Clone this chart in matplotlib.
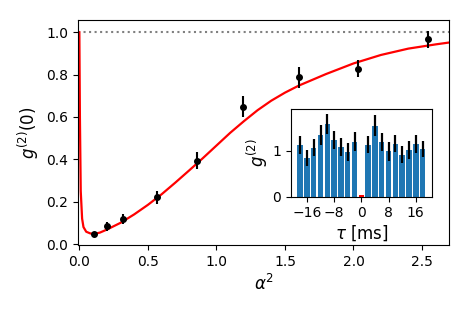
import numpy as np
import matplotlib
matplotlib.use("Agg")
import matplotlib.pyplot as plt

# данные измерений g2(0) от alpha^2
alpha2 = [0.107, 0.20, 0.317, 0.566, 0.859, 1.196, 1.60, 2.034, 2.54]
g2 = [0.047, 0.083, 0.118, 0.220, 0.393, 0.649, 0.788, 0.827, 0.968]
g2_err = [0.008, 0.022, 0.025, 0.030, 0.040, 0.050, 0.050, 0.040, 0.040]

# теоретическая кривая
fit_x = [0.0, 0.004, 0.01, 0.02, 0.03, 0.05, 0.08, 0.11, 0.15, 0.2, 0.3, 0.4,
         0.5, 0.6, 0.7, 0.8, 0.9, 1.0, 1.1, 1.2, 1.3, 1.4, 1.5, 1.6, 1.8,
         2.0, 2.2, 2.4, 2.6, 2.7]
fit_y = [1.0, 0.6, 0.25, 0.12, 0.08, 0.058, 0.05, 0.048, 0.054, 0.068, 0.10,
         0.14, 0.185, 0.235, 0.29, 0.347, 0.405, 0.465, 0.525, 0.58, 0.632,
         0.677, 0.715, 0.748, 0.803, 0.853, 0.893, 0.923, 0.943, 0.952]

# вставка: гистограмма корреляций по задержке tau
tau = [-18, -16, -14, -12, -10, -8, -6, -4, -2, 0, 2, 4, 6, 8, 10, 12, 14, 16, 18]
g2_tau = [1.13, 0.85, 1.07, 1.35, 1.59, 1.24, 1.09, 0.98, 1.20, 0.04,
          1.14, 1.55, 1.19, 0.99, 1.16, 0.92, 1.02, 1.15, 1.04]
g2_tau_err = [0.19, 0.17, 0.19, 0.21, 0.22, 0.20, 0.20, 0.19, 0.21, 0.0,
              0.19, 0.23, 0.20, 0.20, 0.19, 0.18, 0.19, 0.19, 0.18]

fig = plt.figure(figsize=(4.69, 3.13), dpi=100)
ax = fig.add_axes([0.1663, 0.217, 0.792, 0.719])

ax.axhline(1.0, color='gray', ls=':', lw=1.5)
ax.plot(fit_x, fit_y, color='red', lw=1.6)
ax.errorbar(alpha2, g2, yerr=g2_err, fmt='o', color='black', ms=4,
            elinewidth=1.5, capsize=0)
ax.set_xlim(-0.01, 2.7)
ax.set_ylim(-0.005, 1.058)
ax.set_xticks([0.0, 0.5, 1.0, 1.5, 2.0, 2.5])
ax.set_yticks([0.0, 0.2, 0.4, 0.6, 0.8, 1.0])
ax.tick_params(labelsize=10)
ax.set_xlabel(r'$\alpha^2$', fontsize=12)
ax.set_ylabel(r'$g^{(2)}(0)$', fontsize=12)

ins = fig.add_axes([0.6205, 0.3716, 0.300, 0.279])
colors = ['#1f77b4'] * len(tau)
colors[tau.index(0)] = 'red'
ins.bar(tau, g2_tau, width=1.6, color=colors, yerr=g2_tau_err,
        error_kw=dict(ecolor='black', elinewidth=1.6, capsize=0))
ins.set_ylim(0, 1.91)
ins.set_xticks([-16, -8, 0, 8, 16])
ins.set_yticks([0, 1])
ins.tick_params(labelsize=10)
ins.set_xlabel(r'$\tau$ [ms]', fontsize=12, labelpad=2)
ins.set_ylabel(r'$g^{(2)}$', fontsize=12, labelpad=2)

fig.savefig('out.png', dpi=100)
